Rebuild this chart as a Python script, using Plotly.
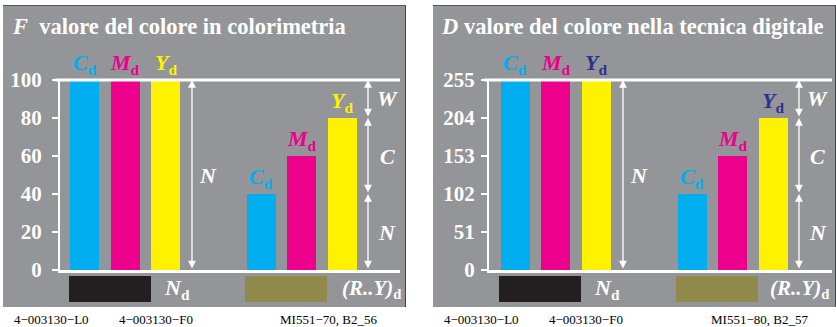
import plotly.graph_objects as go

# ---------------- data ----------------
channels = ["C", "M", "Y"]
F_full = [100, 100, 100]          # colorimetric values, first group (N_d)
F_mixed = [40, 60, 80]            # colorimetric values, second group (R..Y)_d
F_ticks = [0, 20, 40, 60, 80, 100]
D_full = [255, 255, 255]          # digital values, first group
D_mixed = [102, 153, 204]         # digital values, second group
D_ticks = [0, 51, 102, 153, 204, 255]

titles = ["<b><i>F</i>  valore del colore in colorimetria</b>",
          "<b><i>D</i> valore del colore nella tecnica digitale</b>"]
footers = [["4\u2212003130\u2212L0", "4\u2212003130\u2212F0", "MI551\u221270, B2_56"],
           ["4\u2212003130\u2212L0", "4\u2212003130\u2212F0", "MI551\u221280, B2_57"]]

# ---------------- style ----------------
W, H = 836, 327
CYAN, MAG, YEL = "#00aeef", "#ec008c", "#fff200"
GRAY = "#939598"
BLACK_SW, OLIVE_SW = "#231f20", "#8f8a4c"
FONT = "Liberation Serif, Times New Roman, serif"
bar_colors = [CYAN, MAG, YEL]
label_colors = [[CYAN, MAG, YEL], [CYAN, MAG, "#2e3192"]]

def px(x):
    return x / W

def py(y):
    return 1 - y / H

slots1 = [0, 1, 2]
slots2 = [4.36, 5.36, 6.36]
arrow_mid_x = 2.654
arrow_right_x = 7.0
bar_w = 0.716

fig = go.Figure()

panels = [
    dict(full=F_full, mixed=F_mixed, ticks=F_ticks, xa="x", ya="y",
         dom=[px(60), px(400)], rng=[-0.605, 7.79],
         panel=(3, 406), title_x=10, sw=(69, 151, 245, 327),
         lab=(162, 340), foot=(12, 117, 278), line=(55, 400)),
    dict(full=D_full, mixed=D_mixed, ticks=D_ticks, xa="x2", ya="y2",
         dom=[px(489), px(832)], rng=[-0.654, 7.815],
         panel=(433, 836), title_x=439, sw=(499, 581, 676, 758),
         lab=(592, 768), foot=(442, 547, 709), line=(484, 832)),
]

ydom = [py(270), py(80)]
shapes = []
annotations = []

for i, p in enumerate(panels):
    top = p["ticks"][-1]
    # panel background
    shapes.append(dict(type="rect", xref="paper", yref="paper",
                       x0=px(p["panel"][0]), x1=px(p["panel"][1]),
                       y0=py(307), y1=py(5), fillcolor=GRAY,
                       line=dict(width=0), layer="below"))
    shapes.append(dict(type="line", xref="paper", yref="paper",
                       x0=px(p["panel"][0]), x1=px(p["panel"][1]),
                       y0=py(5.5), y1=py(5.5), line=dict(color="#555", width=1)))
    shapes.append(dict(type="line", xref="paper", yref="paper",
                       x0=px(p["panel"][1] - 0.5), x1=px(p["panel"][1] - 0.5),
                       y0=py(5), y1=py(307), line=dict(color="#444", width=1)))
    # top white line at max value
    shapes.append(dict(type="line", xref="paper", yref="paper",
                       x0=px(p["line"][0]), x1=px(p["line"][1]),
                       y0=ydom[1], y1=ydom[1], line=dict(color="white", width=3)))
    # swatches
    sw = p["sw"]
    shapes.append(dict(type="rect", xref="paper", yref="paper",
                       x0=px(sw[0]), x1=px(sw[1]), y0=py(302), y1=py(276),
                       fillcolor=BLACK_SW, line=dict(width=0)))
    shapes.append(dict(type="rect", xref="paper", yref="paper",
                       x0=px(sw[2]), x1=px(sw[3]), y0=py(302), y1=py(276),
                       fillcolor=OLIVE_SW, line=dict(width=0)))

    # bars
    fig.add_trace(go.Bar(x=slots1 + slots2, y=p["full"] + p["mixed"],
                         width=bar_w, marker=dict(color=bar_colors * 2, line=dict(width=0)),
                         xaxis=p["xa"], yaxis=p["ya"], showlegend=False,
                         hoverinfo="skip"))

    # bar labels
    for k, ch in enumerate(channels):
        for xs, vals in ((slots1, p["full"]), (slots2, p["mixed"])):
            annotations.append(dict(
                x=xs[k], y=vals[k], xref=p["xa"], yref=p["ya"],
                text=f"<b><i>{ch}</i><sub>d</sub></b>", showarrow=False,
                yanchor="bottom", yshift=0,
                font=dict(family=FONT, size=22, color=label_colors[i][k])))

    # long double arrow (N) between groups
    arrow_common = dict(showarrow=True, arrowside="end+start", arrowhead=2,
                        arrowsize=1.2, arrowwidth=1.3, arrowcolor="white",
                        standoff=0, startstandoff=0, text="",
                        xref=p["xa"], yref=p["ya"],
                        axref=p["xa"], ayref=p["ya"])
    annotations.append(dict(x=arrow_mid_x, y=top, ax=arrow_mid_x, ay=0, **arrow_common))
    annotations.append(dict(x=arrow_mid_x, y=top / 2, xref=p["xa"], yref=p["ya"],
                            xshift=16, text="<b><i>N</i></b>", showarrow=False,
                            font=dict(family=FONT, size=22, color="white")))

    # segmented arrow on right: W, C, N
    cval, yval = p["mixed"][0], p["mixed"][2]
    segs = [(top, yval, "W"), (yval, cval, "C"), (cval, 0, "N")]
    for y0, y1, lab in segs:
        annotations.append(dict(x=arrow_right_x, y=y0, ax=arrow_right_x, ay=y1, **arrow_common))
        annotations.append(dict(x=arrow_right_x, y=(y0 + y1) / 2, xref=p["xa"], yref=p["ya"],
                                xshift=19, text=f"<b><i>{lab}</i></b>", showarrow=False,
                                font=dict(family=FONT, size=22, color="white")))

    # title
    annotations.append(dict(x=px(p["title_x"]), y=py(27), xref="paper", yref="paper",
                            xanchor="left", yanchor="middle", text=titles[i],
                            showarrow=False,
                            font=dict(family=FONT, size=22.5, color="white")))
    # swatch labels
    annotations.append(dict(x=px(p["lab"][0]), y=py(289), xref="paper", yref="paper",
                            xanchor="left", yanchor="middle",
                            text="<b><i>N</i><sub>d</sub></b>", showarrow=False,
                            font=dict(family=FONT, size=22, color="white")))
    annotations.append(dict(x=px(p["lab"][1]), y=py(289), xref="paper", yref="paper",
                            xanchor="left", yanchor="middle",
                            text="<b><i>(R..Y)</i><sub>d</sub></b>", showarrow=False,
                            font=dict(family=FONT, size=21, color="white")))
    # footer
    for fx, ft in zip(p["foot"], footers[i]):
        annotations.append(dict(x=px(fx), y=py(319), xref="paper", yref="paper",
                                xanchor="left", yanchor="middle", text=ft,
                                showarrow=False,
                                font=dict(family=FONT, size=13, color="black")))

axis_x = dict(showline=True, linecolor="white", linewidth=3, showticklabels=False,
              ticks="", showgrid=False, zeroline=False, fixedrange=True,
              automargin=False)
axis_y = dict(showline=True, linecolor="white", linewidth=2, ticks="outside",
              ticklen=6, tickwidth=2, tickcolor="white", showgrid=False,
              zeroline=False, fixedrange=True, automargin=False,
              tickfont=dict(family=FONT, size=21, color="white"), domain=ydom)

fig.update_layout(
    template="none",
    width=W, height=H, margin=dict(l=0, r=0, t=0, b=0, pad=0, autoexpand=False),
    paper_bgcolor="white", plot_bgcolor="rgba(0,0,0,0)",
    bargap=0, showlegend=False,
    xaxis=dict(axis_x, domain=panels[0]["dom"], range=panels[0]["rng"], anchor="y"),
    yaxis=dict(axis_y, range=[0, F_ticks[-1]], tickvals=F_ticks, ticklabelstandoff=6,
               ticktext=[f"<b>{t}</b>" for t in F_ticks], anchor="x"),
    xaxis2=dict(axis_x, domain=panels[1]["dom"], range=panels[1]["rng"], anchor="y2"),
    yaxis2=dict(axis_y, range=[0, D_ticks[-1]], tickvals=D_ticks, ticklabelstandoff=2,
                ticktext=[f"<b>{t}</b>" for t in D_ticks], anchor="x2"),
    shapes=shapes, annotations=annotations,
)

fig.write_html("out.html", config={"displayModeBar": False},
               post_script="document.body.style.margin='0';document.body.style.overflow='hidden';")
